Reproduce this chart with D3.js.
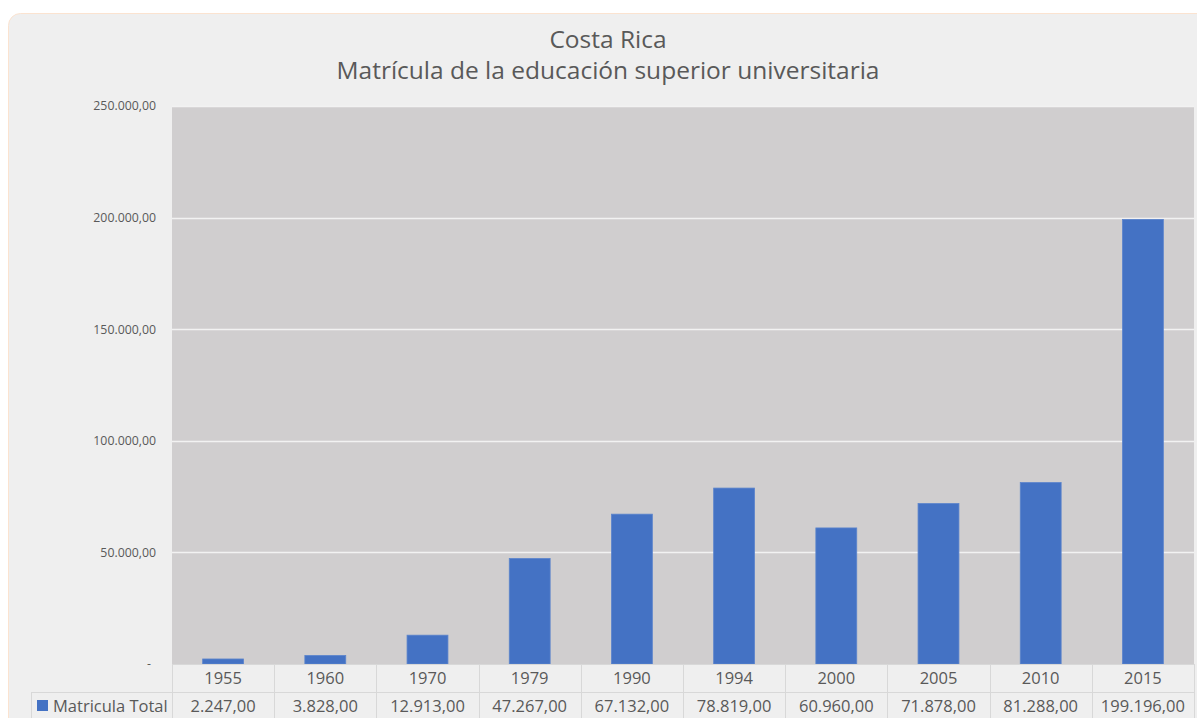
<!DOCTYPE html>
<html>
<head>
<meta charset="utf-8">
<title>Costa Rica - Matrícula de la educación superior universitaria</title>
<style>
  body { margin: 0; background: #ffffff; }
  svg { display: block; }
  text { font-family: "Open Sans", Lato, sans-serif; fill: #595959; }
</style>
</head>
<body>
<script src="https://cdn.jsdelivr.net/npm/d3@7/dist/d3.min.js"></script>
<script>
// data
var years = ["1955", "1960", "1970", "1979", "1990", "1994", "2000", "2005", "2010", "2015"];
var matricula = [2247, 3828, 12913, 47267, 67132, 78819, 60960, 71878, 81288, 199196];
var yTicks = [0, 50000, 100000, 150000, 200000, 250000];
var seriesName = "Matricula Total";
var titleLines = ["Costa Rica", "Matrícula de la educación superior universitaria"];

var width = 1197, height = 718;
var plot = { left: 172, right: 1194, top: 106, bottom: 664 };
var rowH = 28;

var locale = d3.formatLocale({ decimal: ",", thousands: ".", grouping: [3], currency: ["", ""] });
var fmt = locale.format(",.2f");

var svg = d3.select("body").append("svg")
    .attr("width", width)
    .attr("height", height);

// chart card
svg.append("rect")
    .attr("x", 8.5).attr("y", 13.5)
    .attr("width", 1220).attr("height", 760)
    .attr("rx", 12)
    .attr("fill", "#efefef")
    .attr("stroke", "#fbe3d0");

// title
svg.append("g").selectAll("text")
    .data(titleLines)
    .enter().append("text")
    .attr("x", 608)
    .attr("y", function(d, i) { return 48 + i * 31; })
    .attr("text-anchor", "middle")
    .style("font-size", "24.5px")
    .text(function(d) { return d; });

var x = d3.scaleBand()
    .domain(years)
    .range([plot.left, plot.right])
    .paddingInner(0.6)
    .paddingOuter(0.3);

var y = d3.scaleLinear()
    .domain([0, 250000])
    .range([plot.bottom, plot.top]);

// plot area
svg.append("rect")
    .attr("x", plot.left).attr("y", plot.top)
    .attr("width", plot.right - plot.left)
    .attr("height", plot.bottom - plot.top)
    .attr("fill", "#d0cecf");

// gridlines
svg.append("g").selectAll("line")
    .data(yTicks.filter(function(d) { return d > 0; }))
    .enter().append("line")
    .attr("x1", plot.left).attr("x2", plot.right)
    .attr("y1", function(d) { return Math.round(y(d)) + 0.5; })
    .attr("y2", function(d) { return Math.round(y(d)) + 0.5; })
    .attr("stroke", "#f2f2f2")
    .attr("stroke-width", 1.3);

// y axis labels
var yAxis = d3.axisLeft(y)
    .tickValues(yTicks)
    .tickSize(0)
    .tickPadding(16)
    .tickFormat(function(d) { return d === 0 ? "-" : fmt(d); });

var yg = svg.append("g")
    .attr("transform", "translate(" + plot.left + ",0)")
    .call(yAxis);
yg.select(".domain").remove();
yg.selectAll("text")
    .style("font-size", "12.3px")
    .style("fill", "#595959")
    .style("font-family", "'Open Sans', Lato, sans-serif");
yg.selectAll("text").filter(function(d) { return d === 0; })
    .attr("x", -21);

// bars
svg.append("g").selectAll("rect")
    .data(matricula)
    .enter().append("rect")
    .attr("x", function(d, i) { return x(years[i]); })
    .attr("width", x.bandwidth())
    .attr("y", function(d) { return y(d); })
    .attr("height", function(d) { return y(0) - y(d); })
    .attr("fill", "#4472c4")
    .attr("stroke", "#5b84cc")
    .attr("stroke-width", 0.8);

// data table
var step = x.step();
var colLeft = function(i) { return plot.left + i * step; };
var table = svg.append("g");
var border = "#d8d8d8";

// horizontal lines
table.append("line")
    .attr("x1", plot.left).attr("x2", plot.right)
    .attr("y1", plot.bottom + 0.5).attr("y2", plot.bottom + 0.5)
    .attr("stroke", border);
table.append("line")
    .attr("x1", 31).attr("x2", plot.right)
    .attr("y1", plot.bottom + rowH + 0.5).attr("y2", plot.bottom + rowH + 0.5)
    .attr("stroke", border);

// vertical lines
table.selectAll(".vline")
    .data(d3.range(years.length + 1))
    .enter().append("line")
    .attr("class", "vline")
    .attr("x1", function(i) { return Math.round(colLeft(i)) + 0.5; })
    .attr("x2", function(i) { return Math.round(colLeft(i)) + 0.5; })
    .attr("y1", plot.bottom).attr("y2", height)
    .attr("stroke", border);
table.append("line")
    .attr("x1", 31.5).attr("x2", 31.5)
    .attr("y1", plot.bottom + rowH).attr("y2", height)
    .attr("stroke", border);

// category row
table.selectAll(".cat")
    .data(years)
    .enter().append("text")
    .attr("class", "cat")
    .attr("x", function(d) { return x(d) + x.bandwidth() / 2; })
    .attr("y", plot.bottom + 20)
    .attr("text-anchor", "middle")
    .style("font-size", "16.5px")
    .text(function(d) { return d; });

// value row
table.selectAll(".val")
    .data(matricula)
    .enter().append("text")
    .attr("class", "val")
    .attr("x", function(d, i) { return x(years[i]) + x.bandwidth() / 2; })
    .attr("y", plot.bottom + rowH + 20)
    .attr("text-anchor", "middle")
    .style("font-size", "16.5px")
    .text(function(d) { return fmt(d); });

// legend key
table.append("rect")
    .attr("x", 37).attr("y", 700)
    .attr("width", 11).attr("height", 11)
    .attr("fill", "#4472c4");
table.append("text")
    .attr("x", 53)
    .attr("y", plot.bottom + rowH + 20)
    .style("font-size", "16.5px")
    .text(seriesName);
</script>
</body>
</html>
